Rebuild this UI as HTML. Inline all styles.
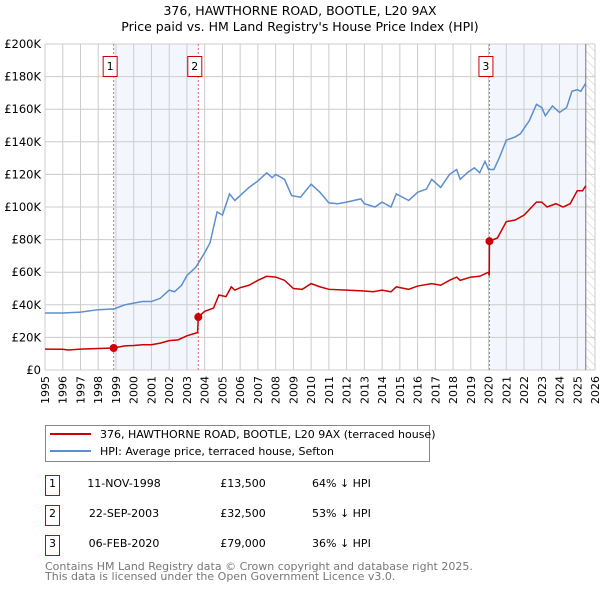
<!DOCTYPE html>
<html><head><meta charset="utf-8"><style>
body{margin:0;background:#fff;width:600px;height:590px;overflow:hidden;font-family:"DejaVu Sans","Liberation Sans",sans-serif}
svg{display:block}
</style></head><body>
<svg id="c" width="600" height="590" xmlns="http://www.w3.org/2000/svg">
<text x="300" y="15" text-anchor="middle" font-size="12.5">376, HAWTHORNE ROAD, BOOTLE, L20 9AX</text>
<text x="300" y="31" text-anchor="middle" font-size="12.5">Price paid vs. HM Land Registry's House Price Index (HPI)</text>
<defs><pattern id="hatch" width="6" height="6" patternUnits="userSpaceOnUse" patternTransform="rotate(-45)"><line x1="0" y1="0" x2="0" y2="6" stroke="#ccc" stroke-width="1"/></pattern></defs>
<g id="bg"></g><g id="grid"></g><g id="marks"></g><g id="axes"></g>
<g>
<rect x="45.5" y="425.5" width="384" height="36" fill="#fff" stroke="#888"/>
<line x1="50" y1="434" x2="91" y2="434" stroke="#cc0000" stroke-width="2"/>
<text x="100" y="438" font-size="11">376, HAWTHORNE ROAD, BOOTLE, L20 9AX (terraced house)</text>
<line x1="50" y1="451" x2="91" y2="451" stroke="#5b8fd0" stroke-width="2"/>
<text x="100" y="455" font-size="11">HPI: Average price, terraced house, Sefton</text>
</g>
<g font-size="11">
<rect x="45.5" y="475.5" width="14" height="20" fill="#fff" stroke="#cc0000"/><text x="52.5" y="487" text-anchor="middle">1</text>
<text x="124" y="487" text-anchor="middle">11-NOV-1998</text><text x="243" y="487" text-anchor="middle">£13,500</text><text x="312" y="487">64% ↓ HPI</text>
<rect x="45.5" y="505.5" width="14" height="20" fill="#fff" stroke="#cc0000"/><text x="52.5" y="517" text-anchor="middle">2</text>
<text x="124" y="517" text-anchor="middle">22-SEP-2003</text><text x="243" y="517" text-anchor="middle">£32,500</text><text x="312" y="517">53% ↓ HPI</text>
<rect x="45.5" y="535.5" width="14" height="20" fill="#fff" stroke="#cc0000"/><text x="52.5" y="547" text-anchor="middle">3</text>
<text x="124" y="547" text-anchor="middle">06-FEB-2020</text><text x="243" y="547" text-anchor="middle">£79,000</text><text x="312" y="547">36% ↓ HPI</text>
</g>
<text x="45" y="570" font-size="11" fill="#777">Contains HM Land Registry data © Crown copyright and database right 2025.</text>
<text x="45" y="580" font-size="11" fill="#777">This data is licensed under the Open Government Licence v3.0.</text>
</svg>
<script>
const yTicks=[0,20,40,60,80,100,120,140,160,180,200];
const years=[1995,1996,1997,1998,1999,2000,2001,2002,2003,2004,2005,2006,2007,2008,2009,2010,2011,2012,2013,2014,2015,2016,2017,2018,2019,2020,2021,2022,2023,2024,2025,2026];
const saleDates=[1998.87,2003.64,2020.05];
const salePrices=[13.5,32.5,79];
const saleLabels=["1","2","3"];
const dataEnd=2025.48;
const hpiT=[1995,1996,1997,1998,1998.9,1999.5,2000,2000.5,2001,2001.5,2002,2002.3,2002.7,2003,2003.5,2004,2004.3,2004.7,2005,2005.4,2005.7,2006,2006.5,2007,2007.5,2007.8,2008,2008.5,2008.9,2009.4,2010,2010.5,2011,2011.5,2012,2012.8,2013,2013.6,2014,2014.5,2014.8,2015.5,2016,2016.5,2016.8,2017.3,2017.8,2018.2,2018.4,2018.8,2019.2,2019.5,2019.8,2020,2020.3,2020.6,2021,2021.5,2021.8,2022.3,2022.7,2023,2023.2,2023.6,2024,2024.4,2024.7,2025,2025.2,2025.48];
const hpiV=[35,35,35.5,37,37.5,40,41,42,42,44,49,48,52,58,63,72,78,97,95,108,104,107,112,116,121,118,120,117,107,106,114,109,102.5,102,103,105,102,100,103,100,108,104,109,111,117,112,120,123,117,121,124,121,128,123,123,130,141,143,145,153,163,161,156,162,158,161,171,172,171,176];
const ppT=[1995,1996,1996.3,1997,1998,1998.87,1999.5,2000,2000.5,2001,2001.5,2002,2002.5,2003,2003.6,2003.64,2004,2004.5,2004.8,2005.2,2005.5,2005.7,2006,2006.5,2007,2007.5,2008,2008.5,2009,2009.5,2010,2010.5,2011,2012,2013,2013.5,2014,2014.5,2014.8,2015.5,2016,2016.8,2017.3,2017.8,2018.2,2018.4,2019,2019.5,2020,2020.04,2020.05,2020.5,2021,2021.5,2022,2022.7,2023,2023.3,2023.8,2024.2,2024.6,2025,2025.3,2025.48];
const ppV=[12.8,12.7,12.3,12.8,13.2,13.5,14.8,15,15.5,15.5,16.5,18,18.5,21,23,32.5,36,38,46,45,51,49,50.5,52,55,57.5,57,55,50,49.5,53,51,49.5,49,48.5,48,49,48,51,49.5,51.5,53,52,55,57,55,57,57.5,60,58,79,81,91,92,95,103,103,100,102,100,102,110,110,113];
const L=45,R=595,T=44,B=370;
const x=t=>L+(t-1995)*(R-L)/31, y=v=>B-v*(B-T)/200;
const NS="http://www.w3.org/2000/svg";
function mk(g,tag,a){const e=document.createElementNS(NS,tag);for(const k in a)e.setAttribute(k,a[k]);document.getElementById(g).appendChild(e);return e;}
let e;
e=mk('bg','rect',{x:x(saleDates[0]),y:T,width:x(saleDates[1])-x(saleDates[0]),height:B-T,fill:'#eef3fc',opacity:0.7});


e=mk('bg','rect',{x:x(saleDates[2]),y:T,width:x(dataEnd)-x(saleDates[2]),height:B-T,fill:'#eef3fc',opacity:0.7});


e=mk('bg','rect',{x:x(dataEnd),y:T,width:R-x(dataEnd),height:B-T,fill:'url(#hatch)'});


years.forEach(yr=>{e=mk('grid','line',{x1:x(yr),x2:x(yr),y1:T,y2:B,stroke:'#ccc'});


e=mk('axes','text',{x:x(yr)+4,y:B+6,'font-size':11,'text-anchor':'end',transform:`rotate(-90 ${x(yr)+4} ${B+6})`});e.textContent=yr;

});
yTicks.forEach(v=>{e=mk('grid','line',{x1:L,x2:R,y1:y(v),y2:y(v),stroke:'#ccc'});


e=mk('axes','text',{x:L-4,y:y(v)+4,'font-size':11.5,'text-anchor':'end'});e.textContent=v===0?'£0':'£'+v+'K';

});
e=mk('marks','line',{x1:x(dataEnd),x2:x(dataEnd),y1:T,y2:B,stroke:'#777'});


saleDates.forEach((d,i)=>{e=mk('marks','line',{x1:x(d),x2:x(d),y1:T,y2:B,stroke:'#e06666','stroke-dasharray':'2,2'});


e=mk('marks','rect',{x:x(d)-10.5,y:56.5,width:14,height:20,fill:'#fff',stroke:'#cc0000'});


e=mk('marks','text',{x:x(d)-3.5,y:70,'font-size':11,'text-anchor':'middle'});e.textContent=saleLabels[i];

});
e=mk('marks','polyline',{points:hpiT.map((t,i)=>x(t)+','+y(hpiV[i])).join(' '),fill:'none',stroke:'#5b8fd0','stroke-width':1.5});


e=mk('marks','polyline',{points:ppT.map((t,i)=>x(t)+','+y(ppV[i])).join(' '),fill:'none',stroke:'#cc0000','stroke-width':1.5});


saleDates.forEach((d,i)=>{e=mk('marks','circle',{cx:x(d),cy:y(salePrices[i]),r:4,fill:'#cc0000'});

});
</script>
</body></html>
